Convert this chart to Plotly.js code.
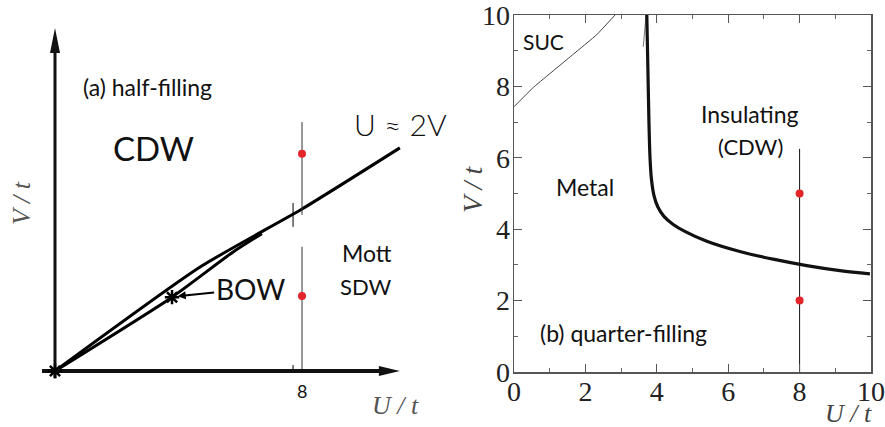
<!DOCTYPE html>
<html>
<head>
<meta charset="utf-8">
<script src="https://cdn.plot.ly/plotly-3.0.1.min.js"></script>
<style>html,body{margin:0;padding:0;background:#fff}#chart{width:885px;height:427px}</style>
</head>
<body>
<div id="chart"></div>
<script>
// ---------- Panel (a): half-filling (schematic) ----------
const a_upperU = [0, 4.70, 8.0, 11.17];
const a_upperV = [0, 2.62, 4.08, 5.62];
const a_lowerU = [0, 3.79, 5.77, 6.70];
const a_lowerV = [0, 1.86, 3.0, 3.46];
const a_cutU = [8, 8, null, 8, 8];
const a_cutV = [6.27, 3.93, null, 3.13, 0];
const a_markU = [7.71, 7.71, null, 7.71, 7.71];
const a_markV = [4.23, 3.63, null, 0.15, 0];
const a_redU = [8, 8];
const a_redV = [5.47, 1.89];
const a_starU = [0, 3.79];
const a_starV = [0, 1.86];
const a_axisU = [-0.42, 11.17];
const a_axisV = [-0.18, 8.64];
const a_tickText = ['8'];
const a_tickU = [8];
const a_labels = ['(a) half-filling', 'CDW', 'Mott', 'SDW', 'U \u2248 2V'];
const a_bowLabel = 'BOW';

// ---------- Panel (b): quarter-filling ----------
const b_boundU = [3.72, 3.75, 3.78, 3.81, 3.85, 3.92, 4.03, 4.2, 4.45, 4.8, 5.4, 6.3, 7.26, 8.2, 9.13, 9.97];
const b_boundV = [10, 8.5, 7, 6.0, 5.4, 4.95, 4.62, 4.36, 4.14, 3.93, 3.66, 3.38, 3.16, 2.98, 2.84, 2.75];
const b_sucU = [0, 0.54, 1.66, 2.32, 2.83];
const b_sucV = [7.43, 7.97, 8.9, 9.45, 10];
const b_faintU = [3.62, 3.7];
const b_faintV = [9.11, 10];
const b_cutU = [8, 8];
const b_cutV = [0, 6.25];
const b_redU = [8, 8];
const b_redV = [5, 2];
const b_ticks = [0, 2, 4, 6, 8, 10];
const b_labels = ['SUC', 'Insulating', '(CDW)', 'Metal', '(b) quarter-filling'];
const axisTitles = ['U / t', 'V / t'];

// ---------- helpers ----------
const W = 885, H = 427;
const px = p => p / W;
const py = p => 1 - p / H;
const sans = 'Lato';
const serif = 'Liberation Serif';

// panel (a) axis scale: U=0 at pixel 55, U=8 at 302 ; V=0 at 371, 39.7 px per unit
const aX0 = 55, aXs = 30.875, aY0 = 371, aYs = 39.7;

const traces = [
  {x: a_upperU, y: a_upperV, xaxis: 'x', yaxis: 'y', mode: 'lines', line: {color: '#000', width: 3, shape: 'spline', smoothing: 0.6}, hoverinfo: 'skip'},
  {x: a_lowerU, y: a_lowerV, xaxis: 'x', yaxis: 'y', mode: 'lines', line: {color: '#000', width: 3, shape: 'spline', smoothing: 0.6}, hoverinfo: 'skip'},
  {x: a_cutU, y: a_cutV, xaxis: 'x', yaxis: 'y', mode: 'lines', line: {color: '#333', width: 1}, hoverinfo: 'skip'},
  {x: a_markU, y: a_markV, xaxis: 'x', yaxis: 'y', mode: 'lines', line: {color: '#000', width: 1}, hoverinfo: 'skip'},
  {x: [a_axisU[0], a_axisU[1] - 0.35], y: [0, 0], xaxis: 'x', yaxis: 'y', mode: 'lines', line: {color: '#111', width: 4}, hoverinfo: 'skip'},
  {x: [0, 0], y: [a_axisV[0], a_axisV[1] - 0.3], xaxis: 'x', yaxis: 'y', mode: 'lines', line: {color: '#111', width: 3}, hoverinfo: 'skip'},
  {x: a_starU, y: a_starV, xaxis: 'x', yaxis: 'y', mode: 'markers', marker: {symbol: 'asterisk-open', size: 12, color: '#000', line: {color: '#000', width: 2.5}}, hoverinfo: 'skip'},
  {x: a_redU, y: a_redV, xaxis: 'x', yaxis: 'y', mode: 'markers', marker: {symbol: 'circle', size: 8, color: '#e3242b'}, hoverinfo: 'skip'},

  {x: b_sucU, y: b_sucV, xaxis: 'x2', yaxis: 'y2', mode: 'lines', line: {color: '#444', width: 1, shape: 'spline', smoothing: 0.3}, hoverinfo: 'skip'},
  {x: b_faintU, y: b_faintV, xaxis: 'x2', yaxis: 'y2', mode: 'lines', line: {color: '#777', width: 1}, hoverinfo: 'skip'},
  {x: b_boundU, y: b_boundV, xaxis: 'x2', yaxis: 'y2', mode: 'lines', line: {color: '#111', width: 3.2, shape: 'spline', smoothing: 1}, hoverinfo: 'skip'},
  {x: b_cutU, y: b_cutV, xaxis: 'x2', yaxis: 'y2', mode: 'lines', line: {color: '#111', width: 1}, hoverinfo: 'skip'},
  {x: b_redU, y: b_redV, xaxis: 'x2', yaxis: 'y2', mode: 'markers', marker: {symbol: 'circle', size: 8, color: '#e3242b'}, hoverinfo: 'skip'}
];

function axB(extra) {
  return Object.assign({
    range: [0, 10], tickmode: 'array', tickvals: b_ticks.slice(), ticktext: b_ticks.map(String),
    ticks: 'inside', ticklen: 8, tickwidth: 1, tickcolor: '#555',
    showline: true, linecolor: '#555', linewidth: 1.5, mirror: 'ticks',
    minor: {ticks: 'inside', dtick: 1, ticklen: 4, tickwidth: 1, tickcolor: '#666'},
    showgrid: false, zeroline: false, fixedrange: true, ticklabeloverflow: 'allow',
    tickfont: {family: serif, size: 28, color: '#222'}
  }, extra);
}

const ann = [];
function txt(text, x, y, size, extra) {
  ann.push(Object.assign({text: text, xref: 'paper', yref: 'paper', x: px(x), y: py(y), showarrow: false,
    xanchor: 'center', yanchor: 'middle', font: {family: sans, size: size, color: '#111'}}, extra || {}));
}
// panel (a) labels
txt(a_labels[0], 147, 87, 23);
txt(a_labels[1], 153, 148, 33);
txt(a_labels[2], 367, 253, 23);
txt(a_labels[3], 365, 286, 22);
txt(a_labels[4], 352, 124, 30, {xanchor: 'left', font: {family: sans, size: 30, color: '#111', weight: 300}});
txt(a_tickText[0], aX0 + a_tickU[0] * aXs, 391, 18);
// BOW with arrow pointing to the star
ann.push({text: a_bowLabel, xref: 'x', yref: 'y', axref: 'x', ayref: 'y',
  x: a_starU[1] + 0.12, y: a_starV[1] + 0.02, ax: 6.32, ay: 2.07,
  showarrow: true, arrowhead: 2, arrowsize: 0.8, arrowwidth: 2, arrowcolor: '#000', standoff: 2, startstandoff: 0,
  font: {family: sans, size: 28, color: '#111'}});
// axis titles panel (a)
txt(axisTitles[0], 395, 405, 26, {font: {family: serif, size: 26, color: '#555', style: 'italic'}});
txt(axisTitles[1], 21, 203, 26, {textangle: -90, font: {family: serif, size: 26, color: '#555', style: 'italic'}});
// panel (b) labels
txt(b_labels[0], 543, 41, 21);
txt(b_labels[1], 750, 114, 23);
txt(b_labels[2], 750, 147, 22);
txt(b_labels[3], 585, 187, 23);
txt(b_labels[4], 623, 333, 23);
txt(axisTitles[0], 848, 413, 26, {font: {family: serif, size: 26, color: '#444', style: 'italic'}});
txt(axisTitles[1], 472, 190, 28, {textangle: -90, font: {family: serif, size: 28, color: '#444', style: 'italic'}});

const shapes = [
  {type: 'path', xref: 'x', yref: 'y', xsizemode: 'pixel', ysizemode: 'pixel', xanchor: 0, yanchor: a_axisV[1],
   path: 'M-5,-25L0,0L5,-25Z', fillcolor: '#111', line: {width: 0}},
  {type: 'path', xref: 'x', yref: 'y', xsizemode: 'pixel', ysizemode: 'pixel', xanchor: a_axisU[1], yanchor: 0,
   path: 'M-21,-5L0,0L-21,5Z', fillcolor: '#111', line: {width: 0}}
];

const layout = {
  width: W, height: H, margin: {l: 0, r: 0, t: 0, b: 0},
  paper_bgcolor: '#fff', plot_bgcolor: 'rgba(0,0,0,0)', showlegend: false,
  font: {family: serif},
  xaxis: {domain: [0, 1], range: [-aX0 / aXs, (W - aX0) / aXs], visible: false, fixedrange: true},
  yaxis: {domain: [0, 1], range: [(aY0 - H) / aYs, aY0 / aYs], visible: false, fixedrange: true},
  xaxis2: axB({domain: [514 / W, 871 / W], anchor: 'y2', ticklabelstandoff: -6}),
  yaxis2: axB({domain: [(H - 372) / H, (H - 15) / H], anchor: 'x2', ticklabelstandoff: -3}),
  annotations: ann, shapes: shapes
};

Plotly.newPlot('chart', traces, layout, {staticPlot: true, displayModeBar: false});
</script>
</body>
</html>
